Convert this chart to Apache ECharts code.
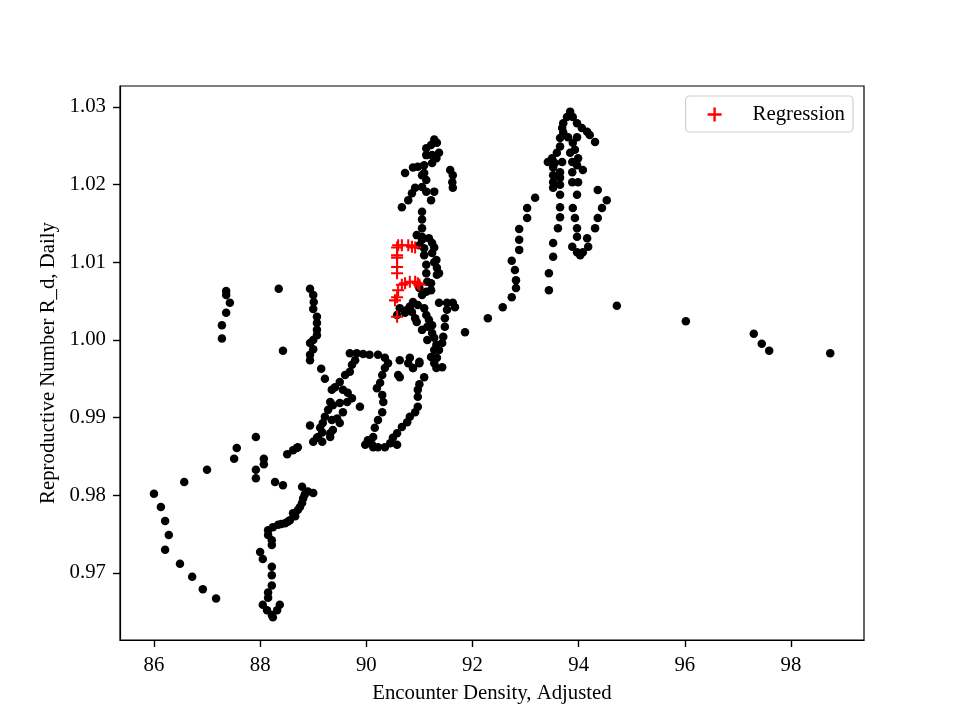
<!DOCTYPE html>
<html>
<head>
<meta charset="utf-8">
<script src="https://cdn.jsdelivr.net/npm/echarts@6/dist/echarts.min.js"></script>
<style>html,body{margin:0;padding:0;background:#fff}#c{width:960px;height:720px}</style>
</head>
<body>
<div id="c"></div>
<script>
// ---- data (x = encounter density, y = R_d) ----
const leftColumn = [[87.36,1.0063],[87.36,1.0058],[87.43,1.0048],[87.36,1.0035],[87.28,1.0019],[87.28,1.0002],[88.35,1.0066],[88.43,0.9986]];
const leftLoop = [[86.00,0.9802],[86.13,0.9785],[86.21,0.9767],[86.28,0.9749],[86.21,0.9730],[86.49,0.9712],[86.72,0.9695],[86.92,0.9679],[87.17,0.9667],[86.57,0.9817],[87.00,0.9833],[87.51,0.9847],[87.56,0.9861],[87.92,0.9875],[88.07,0.9847],[88.07,0.9840],[87.92,0.9833],[87.92,0.9822],[88.51,0.9853],[88.69,0.9861],[88.28,0.9817],[88.43,0.9813]];
const lowerChain = [[88.79,0.9811],[88.90,0.9805],[89.00,0.9803],[88.81,0.9796],[88.79,0.9790],[88.71,0.9781],[88.62,0.9777],[88.56,0.9768],[88.47,0.9764],[88.34,0.9762],[88.24,0.9759],[88.15,0.9755],[88.15,0.9749],[88.22,0.9742],[88.22,0.9736],[88.00,0.9727],[88.05,0.9718],[88.22,0.9708],[88.22,0.9697],[88.22,0.9684],[88.15,0.9675],[88.15,0.9668],[88.05,0.9659],[88.13,0.9652],[88.22,0.9646],[88.32,0.9652],[88.37,0.9659],[88.24,0.9643],[88.40,0.9763],[88.52,0.9766],[88.66,0.9773],[88.75,0.9785],[88.84,0.9801]];
const column89 = [[88.94,1.0066],[89.00,1.0058],[89.01,1.0049],[89.00,1.0040],[89.07,1.0030],[89.07,1.0022],[89.07,1.0013],[89.07,1.0006],[89.00,1.0000],[88.94,0.9996],[89.00,0.9988],[88.94,0.9981],[88.94,0.9974],[89.15,0.9963],[89.22,0.9950]];
const midCluster = [[89.69,0.9983],[89.82,0.9983],[89.94,0.9982],[90.06,0.9981],[89.79,0.9974],[89.73,0.9968],[89.69,0.9959],[89.60,0.9955],[89.50,0.9946],[89.41,0.9939],[89.35,0.9936],[89.56,0.9936],[89.65,0.9932],[89.73,0.9925],[89.64,0.9920],[89.50,0.9919],[89.37,0.9916],[89.32,0.9920],[89.28,0.9910],[89.22,0.9901],[89.35,0.9897],[89.45,0.9899],[89.56,0.9907],[89.88,0.9914],[89.18,0.9893],[89.13,0.9887],[89.09,0.9875],[89.00,0.9869],[88.94,0.9890],[89.37,0.9884],[89.32,0.9880],[89.17,0.9881],[88.71,0.9862],[88.62,0.9858],[89.07,0.9874],[89.17,0.9869],[89.32,0.9875],[89.50,0.9893]];
const rightCluster = [[90.22,0.9981],[90.35,0.9977],[90.41,0.9970],[90.35,0.9964],[90.30,0.9955],[90.26,0.9945],[90.20,0.9938],[90.30,0.9929],[90.32,0.9920],[90.30,0.9907],[90.22,0.9897],[90.16,0.9887],[90.13,0.9875],[90.11,0.9865],[90.22,0.9862],[90.35,0.9862],[90.45,0.9867],[90.50,0.9874],[90.58,0.9880],[90.67,0.9888],[90.77,0.9894],[90.82,0.9901],[90.92,0.9907],[90.97,0.9914],[90.97,0.9927],[90.97,0.9936],[90.60,0.9955],[90.63,0.9974],[90.79,0.9970],[90.88,0.9964],[91.00,0.9970],[91.09,0.9952],[91.00,0.9943],[89.98,0.9865],[90.03,0.9871],[90.58,0.9865],[90.13,0.9862]];
const centreBand = [[91.09,1.0109],[91.24,1.0112],[91.28,1.0100],[91.33,1.0093],[91.37,1.0086],[91.13,1.0097],[91.13,1.0086],[91.15,1.0075],[91.22,1.0073],[91.00,1.0067],[91.05,1.0058],[91.13,1.0062],[91.22,1.0064],[90.88,1.0049],[90.97,1.0045],[90.77,1.0039],[90.86,1.0036],[90.92,1.0028],[91.09,1.0041],[91.13,1.0032],[91.18,1.0026],[91.15,1.0017],[91.24,1.0019],[91.24,1.0009],[91.28,1.0003],[91.32,0.9994],[91.28,0.9987],[91.22,0.9978],[91.28,0.9970],[91.32,0.9964],[91.43,0.9965],[91.37,1.0048],[91.52,1.0048],[91.63,1.0048],[91.67,1.0042],[91.52,1.0039],[91.48,1.0028],[91.48,1.0017],[91.45,1.0004],[91.43,0.9996],[91.37,0.9987],[91.33,0.9977],[91.86,1.0010],[90.82,0.9977],[91.00,0.9972],[90.88,0.9964],[90.63,0.9952],[91.18,1.0131],[91.24,1.0125],[91.28,1.0119],[91.32,1.0103],[91.33,1.0084],[90.95,1.0135],[91.05,1.0133],[91.05,1.0129],[90.58,1.0032],[90.73,1.0035],[90.95,1.0023],[91.05,1.0013],[91.15,1.0000],[90.82,1.0043],[90.63,1.0041],[91.00,1.0122],[91.09,1.0118]];
const upperCluster = [[91.28,1.0258],[91.22,1.0251],[91.13,1.0247],[91.13,1.0238],[91.24,1.0238],[91.32,1.0234],[91.37,1.0241],[91.24,1.0228],[91.09,1.0225],[90.97,1.0223],[90.88,1.0222],[90.73,1.0215],[91.09,1.0215],[91.13,1.0206],[91.05,1.0197],[90.92,1.0196],[90.86,1.0189],[90.79,1.0180],[90.67,1.0171],[91.13,1.0191],[91.28,1.0191],[91.22,1.0180],[91.58,1.0219],[91.63,1.0212],[91.62,1.0203],[91.63,1.0196],[91.05,1.0165],[91.05,1.0155],[91.05,1.0144],[91.05,1.0212],[91.33,1.0254]];
const risingChain = [[92.29,1.0028],[92.57,1.0042],[92.74,1.0055],[92.82,1.0067],[92.82,1.0077],[92.80,1.0090],[92.74,1.0102],[92.88,1.0116],[92.88,1.0129],[92.88,1.0143],[93.03,1.0157],[93.03,1.0170],[93.18,1.0183]];
const peakCluster = [[93.84,1.0294],[93.78,1.0287],[93.89,1.0287],[93.71,1.0279],[93.97,1.0279],[94.06,1.0273],[94.16,1.0268],[94.21,1.0264],[94.31,1.0255],[93.69,1.0273],[93.71,1.0267],[93.65,1.0260],[93.80,1.0261],[93.89,1.0254],[93.97,1.0261],[93.65,1.0249],[93.59,1.0241],[93.50,1.0234],[93.42,1.0229],[93.55,1.0228],[93.69,1.0229],[93.84,1.0241],[93.93,1.0245],[93.88,1.0229],[93.99,1.0234],[93.97,1.0225],[94.08,1.0219],[93.52,1.0222],[93.52,1.0212],[93.52,1.0203],[93.52,1.0196],[93.65,1.0216],[93.65,1.0209],[93.65,1.0200],[93.65,1.0187],[93.88,1.0216],[93.88,1.0203],[93.99,1.0203],[93.97,1.0187],[93.65,1.0171],[93.65,1.0158],[93.61,1.0144],[93.52,1.0125],[93.52,1.0107],[93.89,1.0170],[93.93,1.0157],[93.97,1.0144],[93.97,1.0133],[93.88,1.0120],[93.97,1.0113],[94.03,1.0109],[94.08,1.0113],[94.18,1.0120],[94.16,1.0131],[94.31,1.0144],[94.36,1.0157],[94.44,1.0170],[94.53,1.0180],[94.36,1.0193],[93.44,1.0086],[93.44,1.0064]];
const farRight = [[94.72,1.0044],[96.02,1.0024],[97.30,1.0008],[97.45,0.9995],[97.59,0.9986],[98.74,0.9983]];
const regression = [[90.58,1.0119],[90.60,1.0122],[90.67,1.0122],[90.79,1.0122],[90.86,1.0120],[90.92,1.0119],[90.58,1.0109],[90.58,1.0106],[90.58,1.0094],[90.58,1.0086],[90.67,1.0071],[90.73,1.0073],[90.82,1.0075],[90.92,1.0075],[90.97,1.0073],[91.00,1.0071],[90.60,1.0064],[90.58,1.0055],[90.54,1.0051],[90.58,1.0030]];
const xTicks = [86, 88, 90, 92, 94, 96, 98];
const yTicks = [0.97, 0.98, 0.99, 1.00, 1.01, 1.02, 1.03];

const observed = [].concat(leftColumn, leftLoop, lowerChain, column89, midCluster, rightCluster, centreBand, upperCluster, risingChain, peakCluster, farRight);

const FONT = 'Liberation Serif';
const FS = 20.8;
const PLUS = 'path://M-1.7,-10 L1.7,-10 L1.7,-1.7 L10,-1.7 L10,1.7 L1.7,1.7 L1.7,10 L-1.7,10 L-1.7,1.7 L-10,1.7 L-10,-1.7 L-1.7,-1.7 Z';

const chart = echarts.init(document.getElementById('c'), null, {renderer: 'canvas'});
chart.setOption({
  animation: false,
  backgroundColor: '#fff',
  grid: {left: 120, right: 96, top: 86, bottom: 80, containLabel: false, show: true, borderColor: '#000', borderWidth: 1.2, backgroundColor: 'transparent'},
  xAxis: {
    type: 'value', min: 85.36, max: 99.376,
    name: 'Encounter Density, Adjusted', nameLocation: 'middle', nameGap: 43,
    nameTextStyle: {fontFamily: FONT, fontSize: FS, color: '#000'},
    splitLine: {show: false},
    axisLine: {onZero: false, lineStyle: {color: '#000', width: 1.2}},
    axisTick: {show: true, inside: false, length: 7, lineStyle: {color: '#000', width: 1.4}, customValues: xTicks},
    axisLabel: {color: '#000', fontFamily: FONT, fontSize: FS, margin: 15, customValues: xTicks, formatter: v => String(Math.round(v))}
  },
  yAxis: {
    type: 'value', min: 0.96137, max: 1.0327,
    name: 'Reproductive Number R_d, Daily', nameLocation: 'middle', nameGap: 61, nameRotate: 90,
    nameTextStyle: {fontFamily: FONT, fontSize: FS, color: '#000'},
    splitLine: {show: false},
    axisLine: {show: true, onZero: false, lineStyle: {color: '#000', width: 1.2}},
    axisTick: {show: true, inside: false, length: 7, lineStyle: {color: '#000', width: 1.4}, customValues: yTicks},
    axisLabel: {color: '#000', fontFamily: FONT, fontSize: FS, margin: 14, customValues: yTicks, formatter: v => v.toFixed(2)}
  },
  legend: {
    show: true, right: 107, top: 96,
    data: [{name: 'Regression', icon: PLUS}],
    itemWidth: 14, itemHeight: 14,
    padding: [8, 8, 7, 22],
    borderColor: '#d0d0d0', borderWidth: 1.2, borderRadius: 4,
    backgroundColor: 'rgba(255,255,255,0.8)',
    textStyle: {fontFamily: FONT, fontSize: FS, color: '#000', padding: [0, 0, 0, 26]}
  },
  series: [
    {
      name: 'Observed', type: 'scatter', data: observed,
      symbol: 'circle', symbolSize: 8.5,
      itemStyle: {color: '#000', opacity: 1}, z: 2
    },
    {
      name: 'Regression', type: 'scatter', data: regression,
      symbol: PLUS, symbolSize: 12,
      itemStyle: {color: '#ff0000', opacity: 1}, z: 3
    }
  ]
});
</script>
</body>
</html>
